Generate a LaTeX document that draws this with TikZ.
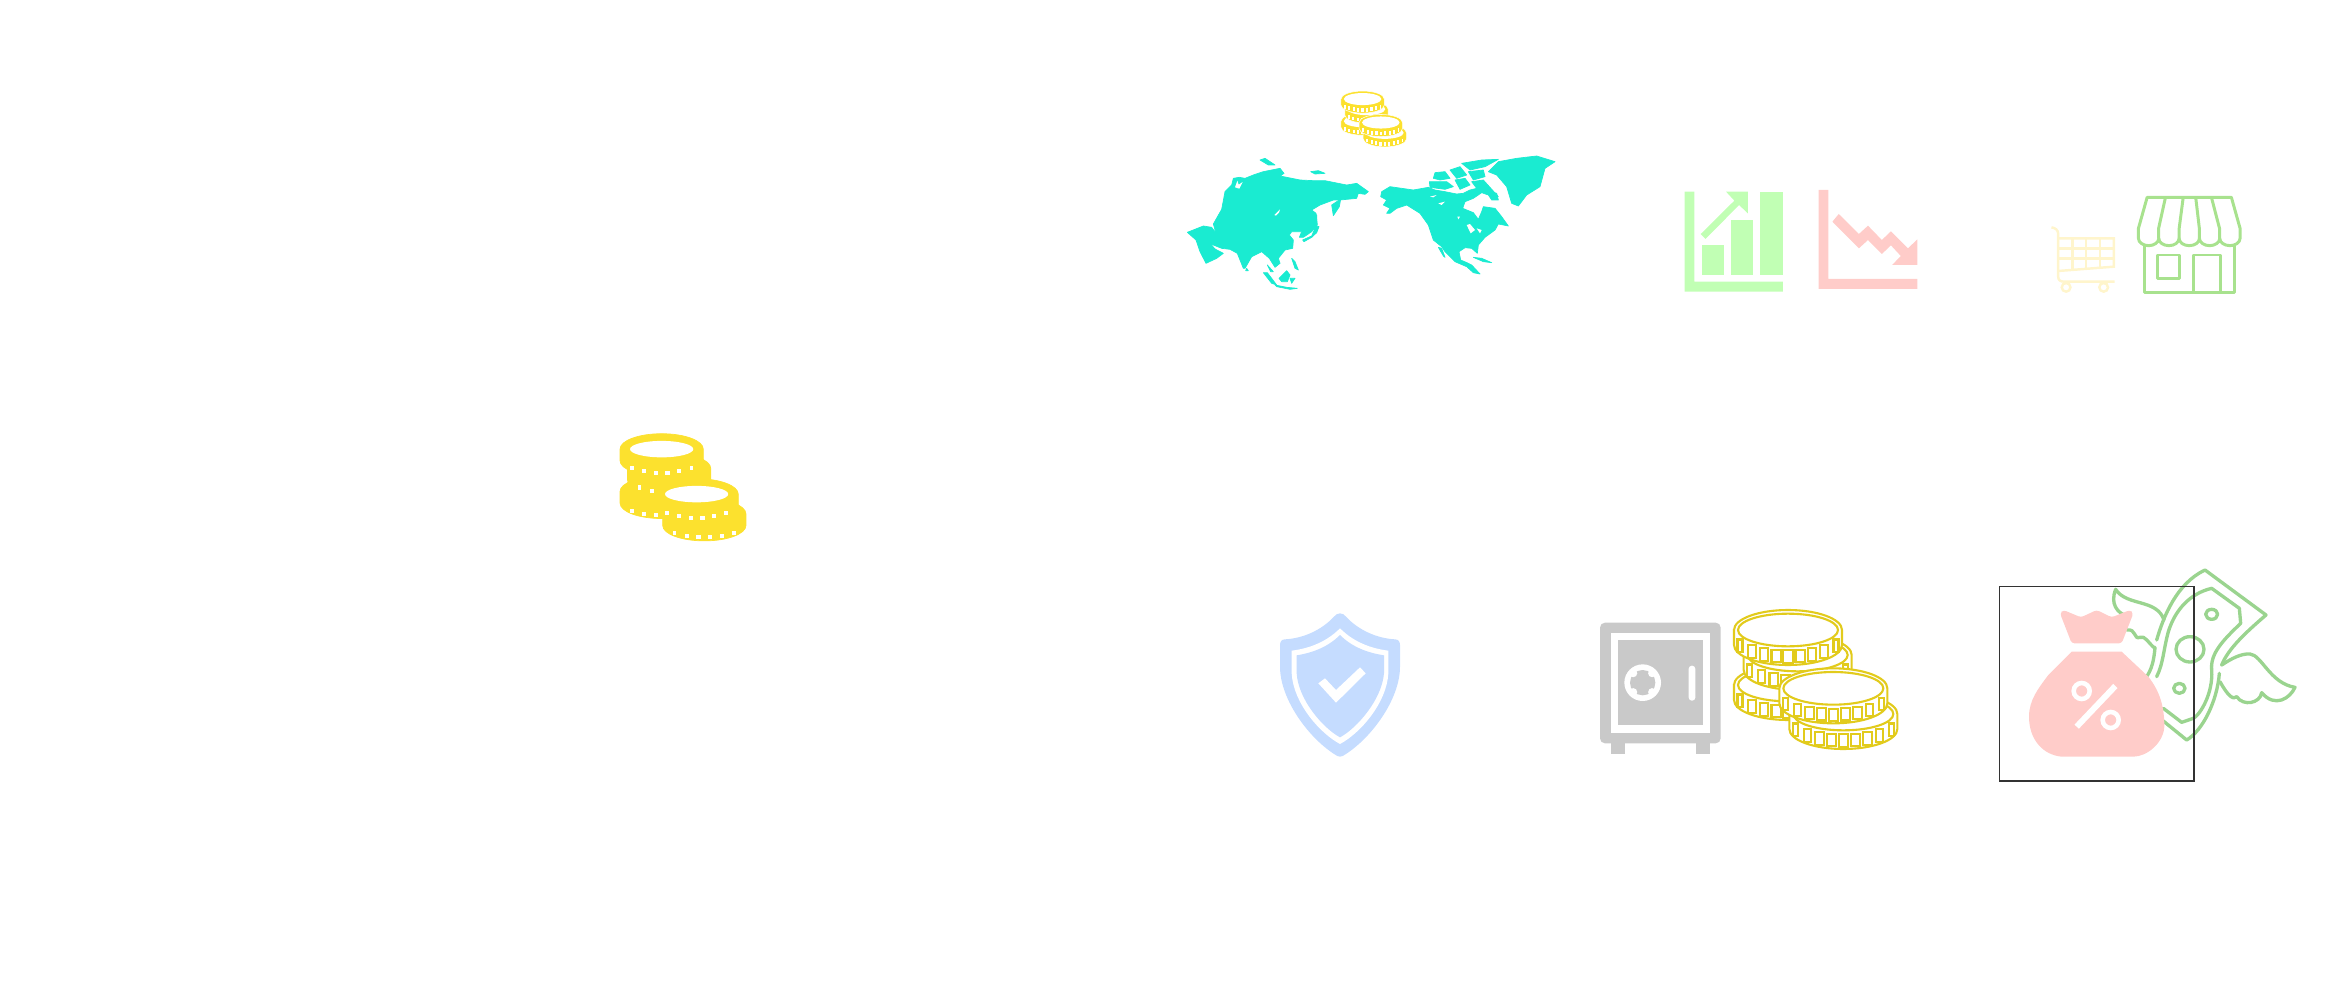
\documentclass[tikz,border=0pt]{standalone}
\definecolor{mapteal}{HTML}{1AEBD1}
\definecolor{coinyellow}{HTML}{FCE12E}
\definecolor{coinline}{HTML}{E2CB1C}
\definecolor{upgreen}{HTML}{C1FFB4}
\definecolor{downred}{HTML}{FFCCC9}
\definecolor{cartcream}{HTML}{FFF5CC}
\definecolor{storegreen}{HTML}{A8E28E}
\definecolor{moneygreen}{HTML}{9AD48F}
\definecolor{shieldblue}{HTML}{C5DCFF}
\definecolor{safegrey}{HTML}{C9C9C9}
\tikzset{
  mapland/.style={fill=mapteal,draw=mapteal,line width=0.2pt,line join=round},
  upshape/.style={fill=upgreen,draw=none},
  downshape/.style={fill=downred,draw=none},
  cartline/.style={draw=cartcream,line width=0.7pt,fill=none},
  storeline/.style={draw=storegreen,line width=0.85pt,line join=round},
  moneyline/.style={draw=moneygreen,line width=0.95pt,line cap=round,line join=round},
  safeshape/.style={fill=safegrey,draw=none},
}
% one coin of a stack, in the frame of the big line-art stack
\newcommand{\coin}[2]{%
  \draw[coinbody] (#1-162,#2) -- (#1-162,#2+45) arc[start angle=180,end angle=0,x radius=162,y radius=60]
    -- (#1+162,#2) arc[start angle=360,end angle=180,x radius=162,y radius=60] -- cycle;
  \draw[coinface] (#1,#2) ellipse[x radius=\facerx,y radius=\facery];
  \foreach \dx in \cointicks {
    \pgfmathsetmacro{\dy}{60*sqrt(1-(\dx/162)^2)}
    \pgfmathsetmacro{\tw}{\tickw*sqrt(1-(\dx/170)^2)}
    \draw[cointick] (#1+\dx-\tw,#2+\dy+\ticka) rectangle (#1+\dx+\tw,#2+\dy+\tickb);
  }
}
\newcommand{\coinstack}{\coin{594}{255}\coin{623}{165}\coin{594}{90}\coin{760}{342}\coin{730}{265}}
\begin{document}
\begin{tikzpicture}[x=0.01cm,y=-0.01cm]
  \useasboundingbox (0,0) rectangle (2339,988);

  % solid coins on the left, the hidden coins get no face
  \begin{scope}[shift={(509,426)},scale=0.257,
      coinbody/.style={fill=coinyellow,draw=coinyellow,line width=0.2pt},
      coinface/.style={fill=white,draw=none},
      cointick/.style={fill=white,draw=none}]
    \def\tickw{9}\def\ticka{24}\def\tickb{40}
    \def\cointicks{-115,-68,-22,22,68,115}
    \def\facerx{1}\def\facery{1}
    \coin{594}{255}\coin{623}{165}
    \def\facerx{123}\def\facery{32}
    \coin{594}{90}
    \def\facerx{1}\def\facery{1}
    \coin{760}{342}
    \def\facerx{123}\def\facery{32}
    \coin{730}{265}
  \end{scope}

  % small coins above the map
  \begin{scope}[shift={(1283,87)},scale=0.134,
      coinbody/.style={fill=coinyellow,draw=white,line width=0.15pt},
      coinface/.style={fill=white,draw=none},
      cointick/.style={fill=white,draw=none}]
    \def\facerx{140}\def\facery{45}\def\tickw{9}\def\ticka{8}\def\tickb{36}
    \def\cointicks{-132,-99,-66,-33,0,33,66,99,132}
    \coinstack
  \end{scope}

  % map, asia
  \begin{scope}[shift={(1180,150)},scale=1/3]
    \filldraw[mapland] (22,247) -- (70,228) -- (95,232) -- (108,250) -- (100,222) -- (125,178) -- (135,125)
      -- (155,105) -- (160,85) -- (178,82) -- (195,85) -- (220,75) -- (250,65) -- (300,55) -- (312,70) -- (300,78)
      -- (360,90) -- (400,92) -- (435,92) -- (500,105) -- (530,100) -- (565,125) -- (555,133) -- (535,130)
      -- (530,145) -- (480,150) -- (460,150) -- (420,165) -- (395,180) -- (408,190) -- (412,225) -- (395,245)
      -- (370,262) -- (358,262) -- (365,245) -- (352,245) -- (335,245) -- (328,255) -- (340,270) -- (338,295)
      -- (315,300) -- (295,325) -- (300,340) -- (285,352) -- (268,325) -- (245,305) -- (215,320) -- (195,355)
      -- (190,355) -- (172,310) -- (150,298) -- (125,295) -- (100,285) -- (90,280) -- (105,297) -- (130,310)
      -- (110,325) -- (78,340) -- (60,305) -- (48,270) -- cycle;
    \fill[white] (283,195) -- (300,178) -- (297,188) -- (288,197) -- cycle;
    \fill[white] (165,112) -- (172,92) -- (176,104) -- (188,96) -- (178,116) -- cycle;
    \filldraw[mapland] (455,165) -- (482,147) -- (478,170) -- (460,197) -- cycle;
    \filldraw[mapland] (368,270) -- (395,258) -- (408,228) -- (417,230) -- (410,248) -- (395,262) -- (372,275) -- cycle;
    \filldraw[mapland] (405,195) -- (410,195) -- (410,222) -- (406,220) -- cycle;
    \filldraw[mapland] (240,30) -- (255,25) -- (285,45) -- (265,45) -- cycle;
    \filldraw[mapland] (392,65) -- (415,62) -- (435,70) -- (405,72) -- cycle;
    \filldraw[mapland] (250,368) -- (262,368) -- (290,405) -- (275,400) -- cycle;
    \filldraw[mapland] (297,385) -- (320,362) -- (330,375) -- (322,395) -- (305,395) -- cycle;
    \filldraw[mapland] (285,405) -- (320,412) -- (352,415) -- (330,418) -- (290,410) -- cycle;
    \filldraw[mapland] (330,385) -- (345,385) -- (335,400) -- cycle;
    \filldraw[mapland] (335,325) -- (345,335) -- (355,360) -- (345,355) -- cycle;
    \filldraw[mapland] (200,355) -- (205,362) -- (197,362) -- cycle;
    \filldraw[mapland] (262,345) -- (280,365) -- (272,365) -- cycle;
  \end{scope}

  % map, north america
  \begin{scope}[shift={(1370,150)},scale=1/3]
    \filldraw[mapland] (35,125) -- (60,110) -- (130,120) -- (175,112) -- (195,120) -- (225,125) -- (260,132)
      -- (280,130) -- (300,120) -- (320,115) -- (340,120) -- (380,130) -- (385,150) -- (365,150) -- (355,135)
      -- (335,128) -- (310,145) -- (285,155) -- (278,175) -- (310,188) -- (325,208) -- (335,185) -- (340,170)
      -- (375,175) -- (395,200) -- (415,228) -- (385,222) -- (375,240) -- (345,262) -- (325,285) -- (322,310)
      -- (305,295) -- (285,293) -- (267,305) -- (272,330) -- (295,340) -- (305,345) -- (330,372) -- (310,368)
      -- (290,350) -- (255,335) -- (225,305) -- (215,290) -- (190,270) -- (175,225) -- (150,190) -- (110,165)
      -- (80,175) -- (60,190) -- (50,190) -- (60,175) -- (40,165) -- (50,150) -- (32,140) -- cycle;
    \fill[white] (290,225) -- (300,222) -- (315,240) -- (302,250) -- cycle;
    \fill[white] (320,235) -- (335,240) -- (330,250) -- cycle;
    \fill[white] (262,200) -- (270,200) -- (265,208) -- cycle;
    \fill[white] (205,160) -- (225,155) -- (215,165) -- cycle;
    \fill[white] (180,140) -- (200,135) -- (190,142) -- cycle;
    \filldraw[mapland] (205,292) -- (215,295) -- (225,322) -- (220,318) -- cycle;
    \filldraw[mapland] (310,322) -- (335,325) -- (365,338) -- (340,335) -- cycle;
    \filldraw[mapland] (195,68) -- (225,65) -- (240,85) -- (210,90) -- (190,85) -- cycle;
    \filldraw[mapland] (178,95) -- (230,95) -- (250,110) -- (225,118) -- (180,112) -- cycle;
    \filldraw[mapland] (240,60) -- (270,50) -- (290,75) -- (260,85) -- cycle;
    \filldraw[mapland] (255,90) -- (285,85) -- (300,105) -- (270,118) -- cycle;
    \filldraw[mapland] (275,40) -- (335,30) -- (385,28) -- (345,50) -- (300,60) -- cycle;
    \filldraw[mapland] (295,65) -- (340,60) -- (345,80) -- (310,90) -- cycle;
    \filldraw[mapland] (305,95) -- (340,90) -- (385,140) -- (360,130) -- (320,115) -- cycle;
    \filldraw[mapland] (355,65) -- (385,35) -- (440,25) -- (500,18) -- (555,35) -- (525,55) -- (510,110)
      -- (470,135) -- (445,168) -- (425,160) -- (410,110) -- (380,75) -- cycle;
  \end{scope}

  % charts, cart and store
  \begin{scope}[shift={(1660,170)},xscale=0.3954,yscale=1/3]
    \fill[upshape] (62,65) -- (87,65) -- (87,335) -- (311,335) -- (311,365) -- (62,365) -- cycle;
    \fill[upshape] (105,225) rectangle (162,315);
    \fill[upshape] (180,150) rectangle (236,315);
    \fill[upshape] (254,65) rectangle (311,315);
    \fill[upshape] (103,192) -- (188,92) -- (167,65) -- (222,65) -- (222,130) -- (200,105) -- (115,207) -- cycle;

    \fill[downshape] (401,60) -- (426,60) -- (426,327) -- (651,327) -- (651,357) -- (401,357) -- cycle;
    \fill[downshape] (452,132) -- (503,192) -- (526,167) -- (561,210) -- (584,184) -- (627,235) -- (651,208)
      -- (651,285) -- (587,285) -- (609,258) -- (584,226) -- (561,252) -- (526,210) -- (503,235) -- (436,155) -- cycle;

    \draw[cartline] (990,172) .. controls (1000,174) and (1007,180) .. (1007,192) -- (1007,320)
      .. controls (1007,330) and (1012,335) .. (1022,335) -- (1150,335);
    \draw[cartline] (1007,205) -- (1148,205) -- (1148,290) -- (1007,303);
    \foreach \gx/\gy in {1043/300,1078/297,1113/294}
      \draw[cartline] (\gx,205) -- (\gx,\gy);
    \foreach \gy in {235,265}
      \draw[cartline] (1007,\gy) -- (1148,\gy);
    \foreach \gx in {1027,1122}
      \draw[cartline] (\gx,352) ellipse[x radius=11,y radius=13];

    \draw[storeline] (1226,225) -- (1226,367) -- (1452,367) -- (1452,225);
    \draw[storeline] (1258,255) rectangle (1315,325);
    \draw[storeline] (1348,367) -- (1348,255) -- (1417,255) -- (1417,367);
    \draw[storeline] (1210,175) -- (1232,82) -- (1445,82) -- (1467,175) -- (1467,205)
      arc[start angle=0,end angle=180,x radius=25.7,y radius=22]
      arc[start angle=0,end angle=180,x radius=25.7,y radius=22]
      arc[start angle=0,end angle=180,x radius=25.7,y radius=22]
      arc[start angle=0,end angle=180,x radius=25.7,y radius=22]
      arc[start angle=0,end angle=180,x radius=25.7,y radius=22] -- cycle;
    \foreach \ax/\bx in {1278/1261,1323/1313,1355/1364,1395/1415}
      \draw[storeline] (\ax,84) -- (\bx,175) -- (\bx,205);
  \end{scope}

  % shield
  \begin{scope}[shift={(1260,600)},scale=1/3]
    \fill[shieldblue] (240,40) .. controls (232,40) and (228,44) .. (222,50)
      .. controls (185,90) and (130,115) .. (75,118)
      .. controls (65,118) and (60,125) .. (60,135) -- (60,200)
      .. controls (60,300) and (150,420) .. (232,468) -- (240,470) -- (248,468)
      .. controls (330,420) and (420,300) .. (420,200) -- (420,135)
      .. controls (420,125) and (415,118) .. (405,118)
      .. controls (350,115) and (295,90) .. (258,50)
      .. controls (252,44) and (248,40) .. (240,40) -- cycle;
    \fill[white] (240,85) .. controls (200,125) and (150,145) .. (95,152) -- (95,220)
      .. controls (100,310) and (180,400) .. (240,432)
      .. controls (300,400) and (380,310) .. (385,220) -- (385,152)
      .. controls (330,145) and (280,125) .. (240,85) -- cycle;
    \fill[shieldblue] (240,105) .. controls (205,140) and (160,158) .. (110,166) -- (110,220)
      .. controls (115,300) and (190,385) .. (240,412)
      .. controls (290,385) and (365,300) .. (372,220) -- (372,166)
      .. controls (320,158) and (275,140) .. (240,105) -- cycle;
    \fill[white] (175,250) -- (195,235) -- (228,270) -- (300,202) -- (317,220) -- (228,308) -- cycle;
  \end{scope}

  % safe and line-art coins
  \begin{scope}[shift={(1590,600)},scale=1/3,
      coinbody/.style={fill=white,draw=coinline,line width=0.6pt},
      coinface/.style={fill=white,draw=coinline,line width=0.6pt},
      cointick/.style={fill=white,draw=coinline,line width=0.6pt}]
    \fill[safeshape] (62,425) rectangle (105,462);
    \fill[safeshape] (317,425) rectangle (360,462);
    \fill[safeshape,rounded corners=1.4pt] (30,68) rectangle (392,430);
    \fill[white] (62,98) rectangle (360,398);
    \fill[safeshape] (83,120) rectangle (338,376);
    \fill[white] (158,248) circle[radius=55];
    \fill[safeshape] (158,248) circle[radius=38];
    \foreach \ang in {45,135,225,315}
      \fill[white] (158,248) ++(\ang:40) circle[radius=12];
    \fill[white,rounded corners=0.9pt] (296,197) rectangle (316,302);

    \def\facerx{150}\def\facery{49}\def\tickw{14}\def\ticka{1}\def\tickb{38}
    \def\cointicks{-144,-108,-72,-36,0,36,72,108,144}
    \coinstack
  \end{scope}

  % flying money and bag
  \begin{scope}[shift={(1980,560)},scale=1/3]
    \draw[moneyline] (530,240) .. controls (550,170) and (590,70) .. (675,30) -- (858,165)
      .. controls (800,215) and (745,265) .. (725,315);
    \draw[moneyline] (718,340) .. controls (712,420) and (670,510) .. (620,540) -- (540,475);
    \draw[moneyline] (525,262) .. controls (522,300) and (515,330) .. (498,352);
    \draw[moneyline] (530,350) .. controls (550,310) and (550,270) .. (565,215)
      .. controls (585,150) and (630,100) .. (695,85) -- (778,145) -- (782,190)
      .. controls (730,240) and (690,280) .. (695,330) .. controls (700,400) and (660,465) .. (640,475)
      -- (605,487) -- (550,445);
    \draw[moneyline] (630,268) ellipse[x radius=42,y radius=38];
    \draw[moneyline] (695,163) ellipse[x radius=18,y radius=15];
    \draw[moneyline] (598,385) ellipse[x radius=17,y radius=15];
    \draw[moneyline] (725,315) .. controls (755,295) and (785,280) .. (810,282)
      .. controls (845,285) and (870,370) .. (945,382)
      .. controls (930,415) and (885,445) .. (845,398)
      .. controls (840,430) and (790,440) .. (770,410)
      .. controls (760,420) and (745,410) .. (720,365);
    \draw[moneyline] (552,180) .. controls (530,115) and (440,140) .. (407,88)
      .. controls (390,130) and (410,160) .. (445,170);
    \draw[moneyline] (440,210) .. controls (470,205) and (460,240) .. (480,232)
      .. controls (495,225) and (505,250) .. (525,265);

    \fill[downshape,rounded corners=0.8pt] (275,250) -- (425,250) -- (460,160) -- (450,150) -- (395,172)
      -- (350,150) -- (303,172) -- (250,150) -- (240,160) -- cycle;
    \fill[downshape] (275,275) -- (425,275) -- (505,350) .. controls (540,395) and (553,440) .. (553,500)
      .. controls (550,550) and (500,590) .. (460,590) -- (245,590)
      .. controls (190,585) and (147,540) .. (147,470) .. controls (147,420) and (175,385) .. (205,345) -- cycle;
    \draw[white,line width=1.3pt] (305,393) circle[radius=24];
    \draw[white,line width=1.3pt] (392,480) circle[radius=24];
    \draw[white,line width=1.7pt] (406,378) -- (290,500);

    \draw[black!80,line width=0.4pt] (58,80) rectangle (642,663);
  \end{scope}
\end{tikzpicture}
\end{document}
